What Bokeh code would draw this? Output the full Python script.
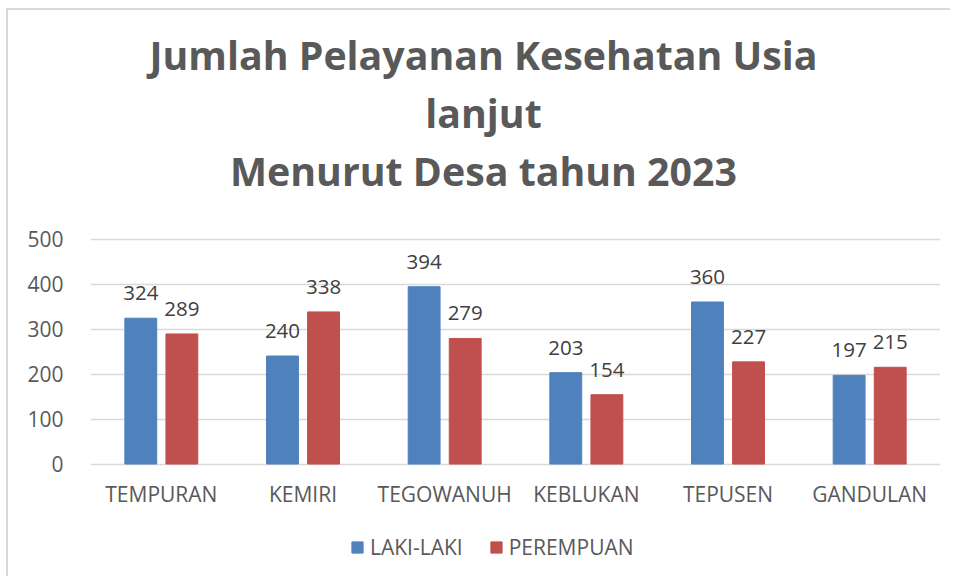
from bokeh.plotting import figure
from bokeh.models import ColumnDataSource, Range1d, FactorRange, LabelSet, Label, Legend, LegendItem
from bokeh.transform import dodge
from bokeh.core.properties import value
from bokeh.embed import file_html
from bokeh.resources import INLINE

desa = ["TEMPURAN", "KEMIRI", "TEGOWANUH", "KEBLUKAN", "TEPUSEN", "GANDULAN"]
laki = [324, 240, 394, 203, 360, 197]
perempuan = [289, 338, 279, 154, 227, 215]
y_ticks = [0, 100, 200, 300, 400, 500]
title_lines = ["Jumlah Pelayanan Kesehatan Usia", "lanjut", "Menurut Desa tahun 2023"]
series_names = ["LAKI-LAKI", "PEREMPUAN"]

BLUE = "#4F81BD"
RED = "#C0504D"
TXT = "#595959"
LBL = "#404040"
GRID = "#D9D9D9"
FONT = "Open Sans"

src = ColumnDataSource(dict(desa=desa, laki=laki, perempuan=perempuan,
                            laki_s=[str(v) for v in laki],
                            perempuan_s=[str(v) for v in perempuan]))

# the frame covers the whole chart area (title, bars, category names, legend);
# y ticks / grid only at 0..500
p = figure(width=944, height=568, x_range=FactorRange(*desa), y_range=Range1d(-254.4, 1007.8),
           output_backend="svg", toolbar_location=None,
           min_border_left=82, min_border_right=12, min_border_top=0,
           min_border_bottom=0)
p.styles = {"border-top": "2px solid #D9D9D9", "border-left": "2px solid #D9D9D9",
            "margin-top": "8px", "margin-left": "6px"}
p.outline_line_color = None
p.background_fill_color = "white"
p.border_fill_color = "white"

off = 0.145
bw = 0.225
r1 = p.vbar(x=dodge("desa", -off, range=p.x_range), top="laki", width=bw, source=src,
            fill_color=BLUE, line_color=BLUE)
r2 = p.vbar(x=dodge("desa", off, range=p.x_range), top="perempuan", width=bw, source=src,
            fill_color=RED, line_color=RED)

for col, o in (("laki_s", -off), ("perempuan_s", off)):
    ycol = col[:-2]
    ls = LabelSet(x=dodge("desa", o, range=p.x_range), y=ycol, text=col, source=src,
                  text_align="center", text_baseline="alphabetic", y_offset=18,
                  text_font=value(FONT), text_font_size=value("20.5px"), text_color=LBL)
    p.add_layout(ls)

# category names below the baseline
p.add_layout(LabelSet(x="desa", y=0, text="desa", source=src, text_align="center",
                      text_baseline="alphabetic", y_offset=-38,
                      text_font=value(FONT), text_font_size=value("21px"), text_color=TXT))

# title: three centred lines above the bars
title_y = [910, 781, 652]
for t, yy in zip(title_lines, title_y):
    p.add_layout(Label(x=2.774, y=yy, text=t, text_align="center", text_baseline="alphabetic",
                       text_font=FONT, text_font_size="39.3px", text_font_style="bold",
                       text_color=TXT))

p.ygrid.ticker = y_ticks
p.ygrid.grid_line_color = GRID
p.ygrid.grid_line_width = 1.5
p.xgrid.grid_line_color = None

p.yaxis.ticker = y_ticks
p.yaxis.axis_line_color = None
p.yaxis.major_tick_line_color = None
p.yaxis.minor_tick_line_color = None
p.yaxis.major_label_standoff = 21
p.yaxis.major_label_text_font = FONT
p.yaxis.major_label_text_font_size = "21px"
p.yaxis.major_label_text_color = TXT

p.xaxis.visible = False

legend = Legend(items=[LegendItem(label=series_names[0], renderers=[r1]),
                       LegendItem(label=series_names[1], renderers=[r2])],
                orientation="horizontal", location=(260, 17),
                glyph_width=14, glyph_height=14, label_height=20, label_standoff=6,
                spacing=26, padding=0, margin=0, border_line_color=None,
                background_fill_alpha=0,
                label_text_font=FONT, label_text_font_size="21px", label_text_color=TXT)
p.add_layout(legend, "center")

open("out.html", "w").write(file_html(p, INLINE))
